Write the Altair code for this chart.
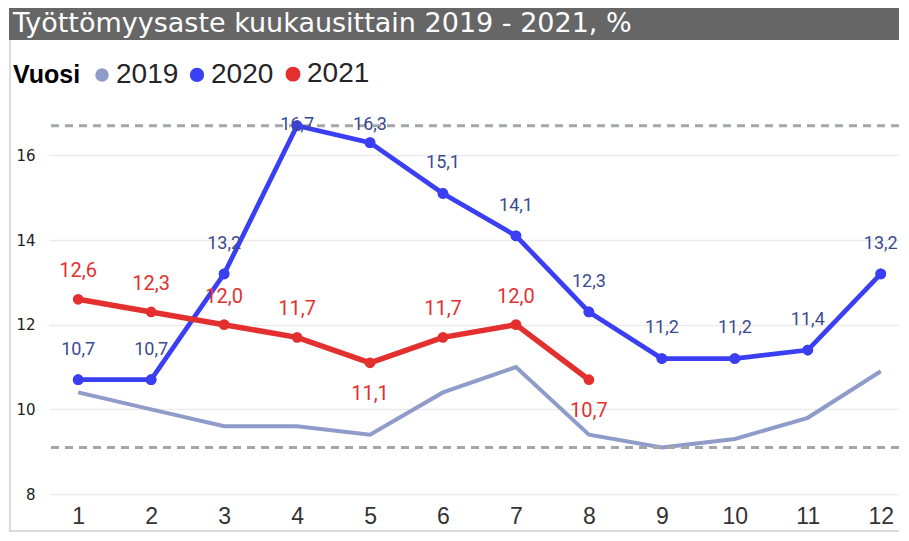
import altair as alt
import pandas as pd

title_text = "Työttömyysaste kuukausittain 2019 - 2021, %"
legend_title = "Vuosi"
months = list(range(1, 13))
years = ["2019", "2020", "2021"]
v2019 = [10.4, 10.0, 9.6, 9.6, 9.4, 10.4, 11.0, 9.4, 9.1, 9.3, 9.8, 10.9]
v2020 = [10.7, 10.7, 13.2, 16.7, 16.3, 15.1, 14.1, 12.3, 11.2, 11.2, 11.4, 13.2]
v2021 = [12.6, 12.3, 12.0, 11.7, 11.1, 11.7, 12.0, 10.7]
y_ticks = [8, 10, 12, 14, 16]
line_colors = ["#8f9bc9", "#3b3ff4", "#e3302f"]
label_color_2020 = "#3a4a8f"
label_color_2021 = "#e3302f"
labels_below_2021 = [5, 8]

rows = []
for yr, vals in zip(years, [v2019, v2020, v2021]):
    for m, v in zip(months, vals):
        rows.append({"year": yr, "month": m, "value": v,
                     "below": 1 if (yr == "2021" and m in labels_below_2021) else 0})
df = pd.DataFrame(rows)

W, H = 850, 381

xenc = alt.X("month:Q", scale=alt.Scale(domain=[0.6, 12.25], nice=False, zero=False),
             axis=alt.Axis(values=months, format="d", title=None, grid=False, ticks=False,
                           domain=False, labelFontSize=23, labelPadding=11,
                           labelColor="#333333", labelFont="Liberation Sans"))
yenc = alt.Y("value:Q", scale=alt.Scale(domain=[8, 17], nice=False, zero=False),
             axis=alt.Axis(values=y_ticks, title=None, grid=True, gridColor="#ebebeb",
                           gridWidth=1.5, ticks=False, domain=False, labelFontSize=15,
                           labelPadding=14, labelColor="#222222", labelFont="DejaVu Sans"))
color_scale = alt.Scale(domain=years, range=line_colors)

legend = alt.Legend(
    orient="none", legendX=-36, legendY=-53, direction="horizontal", title=legend_title,
    titleOrient="left", titleFontSize=25, titleFont="Liberation Sans", titleFontWeight="bold",
    titleColor="#000000", labelFontSize=28, labelFont="Liberation Sans", labelColor="#252525",
    symbolSize=90, symbolType="circle", symbolStrokeWidth=0, symbolOpacity=1,
    labelOffset=0, columnPadding=3, titlePadding=7, padding=0,
)

base = alt.Chart(df)

points = base.transform_filter(alt.datum.year != "2019").mark_point(
    filled=True, size=115, opacity=1
).encode(x=xenc, y=yenc, color=alt.Color("year:N", scale=color_scale, legend=legend))
pts2020 = points.transform_filter(alt.datum.year == "2020")
pts2021 = points.transform_filter(alt.datum.year == "2021")

lines = base.mark_line().encode(
    x=xenc, y=yenc,
    color=alt.Color("year:N", scale=color_scale, legend=legend),
    strokeWidth=alt.StrokeWidth("year:N", scale=alt.Scale(domain=years, range=[4, 5.5, 5]), legend=None),
    order="month:Q",
)
line2019 = lines.transform_filter(alt.datum.year == "2019")
line2020 = lines.transform_filter(alt.datum.year == "2020")
line2021 = lines.transform_filter(alt.datum.year == "2021")

refs = base.transform_aggregate(maxv="max(value)", minv="min(value)").transform_fold(
    ["maxv", "minv"], as_=["k", "value"]
).mark_rule(strokeDash=[8, 6], strokeWidth=3, color="#a3a7a8").encode(y=alt.Y("value:Q"))

lab2020 = base.transform_filter(alt.datum.year == "2020").transform_calculate(
    ly="min(datum.value + 0.71, 16.72)",
    txt="replace(format(datum.value, '.1f'), '.', ',')",
).mark_text(fontSize=18, font="Roboto", color=label_color_2020, baseline="middle").encode(
    x="month:Q", y="ly:Q", text="txt:N")
lab2021 = base.transform_filter(alt.datum.year == "2021").transform_calculate(
    ly="datum.below ? datum.value - 0.73 : datum.value + 0.66",
    txt="replace(format(datum.value, '.1f'), '.', ',')",
).mark_text(fontSize=20, font="Roboto", color=label_color_2021, baseline="middle").encode(
    x="month:Q", y="ly:Q", text="txt:N")

tdf = pd.DataFrame({"t": [title_text]})
title_bar = alt.Chart(tdf).mark_rect(color="#666666").encode(
    x=alt.value(-40), x2=alt.value(W), y=alt.value(-105), y2=alt.value(-73))
title_txt = alt.Chart(tdf).mark_text(align="left", baseline="middle", fontSize=27,
                                     font="DejaVu Sans", color="white").encode(
    x=alt.value(-36), y=alt.value(-89), text="t:N")
border_left = alt.Chart(tdf).mark_rule(color="#cfcfcf", strokeWidth=1.5).encode(
    x=alt.value(-39), y=alt.value(-73), y2=alt.value(418))
border_bottom = alt.Chart(tdf).mark_rule(color="#cfcfcf", strokeWidth=1.5).encode(
    x=alt.value(-40), x2=alt.value(W), y=alt.value(418))

chart = alt.layer(
    pts2020, line2019, refs, line2020, pts2020, line2021, pts2021, lab2020, lab2021,
    title_bar, title_txt, border_left, border_bottom,
).properties(width=W, height=H, padding=0).configure_view(stroke=None)

chart.save("out.html", embed_options={"renderer": "svg", "actions": False})
